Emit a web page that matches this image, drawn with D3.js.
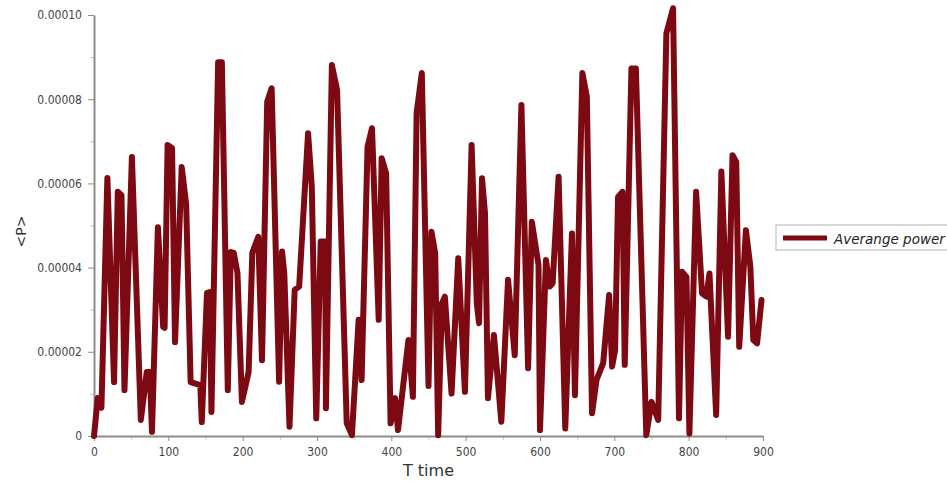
<!DOCTYPE html>
<html>
<head>
<meta charset="utf-8">
<script src="https://cdn.jsdelivr.net/npm/d3@7"></script>
<style>
body { margin: 0; background: #fff; }
svg { display: block; font-family: "DejaVu Sans", sans-serif; }
</style>
</head>
<body>
<svg></svg>
<script>
var width = 947,
    height = 482;
var margin = {top: 15, left: 94, right: 184, bottom: 46};

// data
var times = [0, 5, 10, 18, 27, 32, 37, 41, 51, 63, 71, 75, 78, 86, 93, 95, 99, 105, 109, 118,
    124, 130, 143, 145, 152, 156, 158, 167, 172, 180, 184, 188, 193, 199, 208, 213, 221, 226, 233, 239,
    249, 253, 256, 263, 270, 276, 288, 293, 299, 305, 311, 312, 320, 327, 340, 347, 356, 360, 368, 374,
    383, 387, 393, 399, 405, 409, 423, 429, 434, 441, 450, 454, 459, 463, 468, 472, 481, 490, 499, 508,
    515, 518, 522, 526, 530, 538, 548, 557, 566, 575, 584, 589, 598, 600, 608, 613, 617, 625, 634, 643,
    647, 657, 663, 670, 676, 685, 693, 697, 701, 705, 711, 714, 723, 729, 743, 750, 759, 770, 779, 787,
    791, 797, 801, 810, 818, 824, 828, 837, 844, 853, 859, 864, 868, 877, 883, 887, 892, 898];
var power = [0, 0.9, 0.67, 6.13, 1.28, 5.8, 5.72, 1.09, 6.63, 0.38, 1.52, 1.52, 0.1, 4.96, 2.59, 2.57, 6.91, 6.84, 2.23, 6.39,
    5.5, 1.28, 1.21, 0.33, 3.4, 3.42, 0.57, 8.88, 8.88, 1.09, 4.37, 4.35, 3.87, 0.81, 1.52, 4.35, 4.73, 1.8, 7.94, 8.26,
    1.29, 4.38, 3.86, 0.22, 3.47, 3.55, 7.19, 5.92, 0.42, 4.62, 4.62, 0.66, 8.81, 8.22, 0.3, 0.02, 2.76, 1.33, 6.87, 7.31,
    2.76, 6.6, 6.24, 0.3, 0.9, 0.14, 2.28, 0.93, 7.67, 8.62, 1.19, 4.85, 4.34, 0.02, 3.15, 3.31, 1.01, 4.22, 1.05, 6.91,
    3.15, 2.68, 6.12, 5.29, 0.9, 2.4, 0.34, 3.71, 1.92, 7.86, 1.61, 5.09, 4.06, 0.14, 4.18, 3.55, 3.63, 6.16, 0.18, 4.81,
    0.97, 8.62, 8.06, 0.54, 1.33, 1.73, 3.35, 1.65, 2.04, 5.68, 5.8, 1.69, 8.73, 8.73, 0.02, 0.81, 0.38, 9.56, 10.16, 0.42,
    3.9, 3.78, 0.06, 5.8, 3.39, 3.31, 3.86, 0.5, 6.28, 2.36, 6.67, 6.51, 2.12, 4.89, 4.02, 2.28, 2.2, 3.23]
    .map(d => d * 1e-5);
var yTicks = [0, 0.00002, 0.00004, 0.00006, 0.00008, 0.0001];
var yTickLabels = ["0", "0.00002", "0.00004", "0.00006", "0.00008", "0.00010"];
var seriesName = "Averange power";

var svg = d3.select("svg")
    .attr("width", width)
    .attr("height", height);

var x = d3.scaleLinear()
    .domain([0, 900])
    .range([margin.left, width - margin.right]);
var y = d3.scaleLinear()
    .domain([0, 0.0001])
    .range([height - margin.bottom, margin.top]);

var axisColor = "#8c8c8c";

// minor ticks first
svg.append("g")
    .attr("transform", "translate(" + margin.left + ",0)")
    .call(d3.axisLeft(y).tickValues(d3.range(0.00001, 0.0001, 0.00002)).tickSize(4).tickFormat(""))
    .call(g => g.select(".domain").remove())
    .call(g => g.selectAll("line").attr("stroke", "#c8c8c8"));
svg.append("g")
    .attr("transform", "translate(0," + (height - margin.bottom) + ")")
    .call(d3.axisBottom(x).tickValues(d3.range(50, 900, 100)).tickSize(4).tickFormat(""))
    .call(g => g.select(".domain").remove())
    .call(g => g.selectAll("line").attr("stroke", "#c8c8c8"));

var yAxis = svg.append("g")
    .attr("transform", "translate(" + margin.left + ",0)")
    .call(d3.axisLeft(y).tickValues(yTicks).tickSize(6).tickPadding(6)
        .tickFormat((d, i) => yTickLabels[i]).tickSizeOuter(0));
var xAxis = svg.append("g")
    .attr("transform", "translate(0," + (height - margin.bottom) + ")")
    .call(d3.axisBottom(x).tickValues(d3.range(0, 901, 100)).tickSize(5).tickPadding(6).tickSizeOuter(0));

[yAxis, xAxis].forEach(g => {
    g.select(".domain").attr("stroke", axisColor).attr("stroke-width", 2);
    g.selectAll(".tick line").attr("stroke", axisColor);
    g.selectAll("text").attr("fill", "#444").style("font-size", "12px")
        .style("font-family", "'DejaVu Sans Condensed', 'DejaVu Sans', sans-serif");
});

// the series
var line = d3.line()
    .x((d, i) => x(times[i]))
    .y(d => y(d));
svg.append("path")
    .datum(power)
    .attr("d", line)
    .attr("fill", "none")
    .attr("stroke", "#7d0a12")
    .attr("stroke-width", 6)
    .attr("stroke-linejoin", "round")
    .attr("stroke-linecap", "round");

// axis titles
svg.append("text")
    .attr("transform", "translate(26," + ((margin.top + height - margin.bottom) / 2 + 6) + ") rotate(-90)")
    .attr("text-anchor", "middle")
    .attr("fill", "#333")
    .style("font-size", "14px")
    .text("<P>");
svg.append("text")
    .attr("x", (margin.left + width - margin.right) / 2)
    .attr("y", height - 6)
    .attr("text-anchor", "middle")
    .attr("fill", "#333")
    .style("font-size", "16px")
    .text("T time");

// legend
var legend = svg.append("g").attr("transform", "translate(776,225)");
legend.append("rect")
    .attr("width", 180).attr("height", 25)
    .attr("fill", "#fff").attr("stroke", "#b4b4b4");
legend.append("line")
    .attr("x1", 7).attr("x2", 51).attr("y1", 13).attr("y2", 13)
    .attr("stroke", "#7d0a12").attr("stroke-width", 5);
legend.append("text")
    .attr("x", 58).attr("y", 18.5)
    .attr("fill", "#222")
    .style("font-size", "13.5px")
    .style("font-style", "italic")
    .text(seriesName);
</script>
</body>
</html>
